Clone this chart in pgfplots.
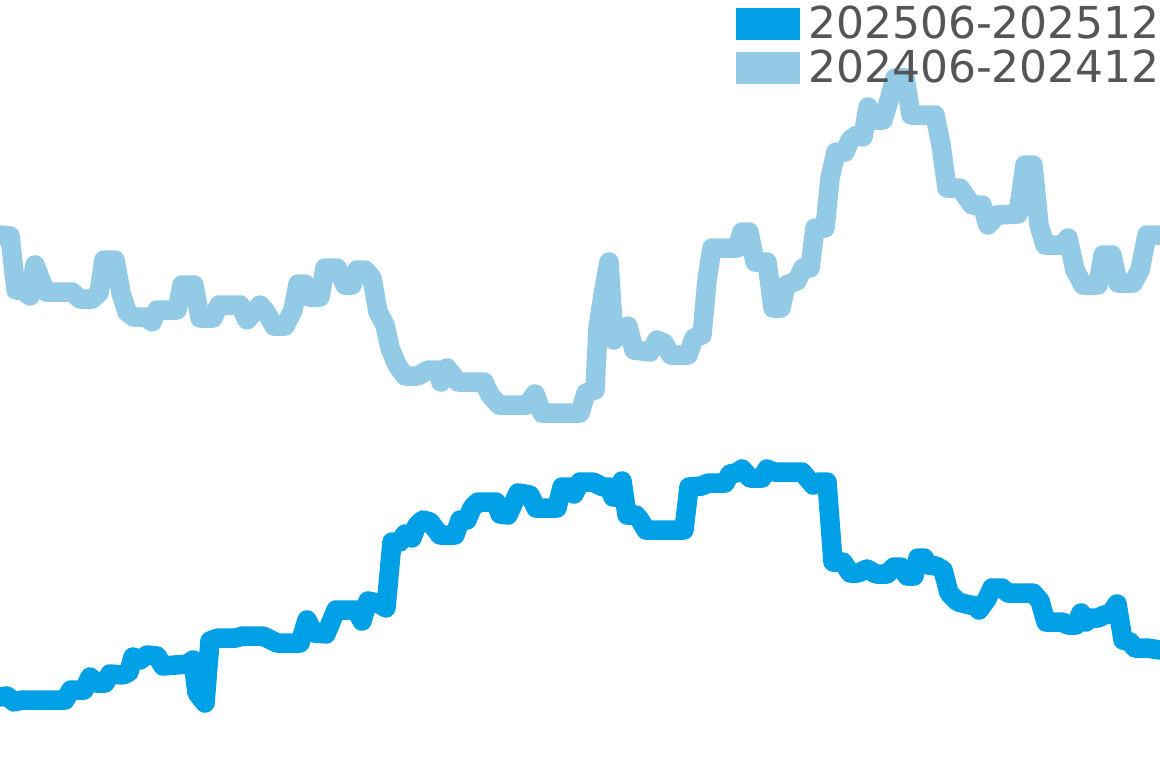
\documentclass[border=0pt]{standalone}
\usepackage{pgfplots}
\pgfplotsset{compat=1.18}
\usepackage{fontspec}
\setmainfont{DejaVu Sans}
\definecolor{newblue}{RGB}{0,160,230}
\definecolor{oldblue}{RGB}{147,202,229}
\definecolor{legtext}{RGB}{85,85,85}
\begin{document}
\begin{tikzpicture}
\begin{axis}[
  width=1160pt, height=768pt, scale only axis,
  hide axis, clip=false,
  xmin=0, xmax=1160, ymin=0, ymax=768, y dir=reverse,
  every axis plot/.append style={line width=19.5pt, line join=round, line cap=round},
]
% 202406-202412
\addplot[color=oldblue] coordinates {(0,235)(10,236)(16,290)(22,290)(30,296)(35,265)(40,278)(46,292)(72,292)(80,299)(92,299)(99,293)(104,260)(115,260)(121,293)(127,312)(134,317)(146,317)(152,322)(157,310)(177,310)(182,285)(194,285)(200,318)(213,318)(219,305)(240,305)(247,320)(260,305)(266,312)(274,326)(285,326)(293,310)(298,284)(305,284)(309,297)(320,297)(325,268)(337,268)(345,285)(352,285)(357,270)(365,270)(372,278)(378,312)(385,325)(390,348)(397,365)(405,376)(418,376)(428,370)(437,370)(441,382)(447,368)(458,382)(484,382)(490,395)(499,405)(527,405)(535,394)(542,413)(580,413)(586,393)(595,390)(598,328)(603,295)(609,262)(614,340)(622,330)(628,326)(634,350)(650,352)(657,340)(664,343)(671,355)(688,355)(694,338)(702,335)(707,280)(712,248)(737,248)(742,232)(749,232)(755,262)(767,262)(773,308)(781,308)(786,285)(797,281)(803,268)(810,268)(815,228)(825,228)(830,178)(836,152)(845,152)(850,140)(857,135)(863,137)(868,107)(874,120)(883,120)(890,97)(895,78)(905,78)(911,115)(935,115)(941,145)(947,188)(960,188)(972,205)(982,205)(988,225)(997,215)(1018,214)(1025,165)(1033,165)(1039,225)(1045,245)(1063,245)(1068,238)(1075,270)(1083,285)(1098,285)(1103,255)(1112,255)(1118,283)(1133,283)(1140,270)(1147,235)(1160,235)};
% 202506-202512
\addplot[color=newblue] coordinates {(0,697)(7,696)(14,702)(22,700)(65,700)(71,690)(84,690)(90,677)(96,683)(105,683)(110,674)(123,675)(129,672)(133,657)(140,660)(147,655)(157,656)(163,666)(188,664)(193,660)(197,693)(205,703)(210,641)(218,638)(236,638)(243,636)(263,636)(277,643)(300,643)(307,620)(314,633)(326,634)(336,610)(356,610)(362,621)(368,601)(378,603)(386,608)(392,542)(400,542)(405,534)(412,538)(417,525)(423,520)(430,522)(440,535)(455,535)(460,520)(467,520)(472,508)(478,502)(496,502)(500,514)(508,515)(518,493)(530,495)(536,508)(557,508)(562,487)(570,487)(574,494)(580,482)(593,482)(603,487)(609,487)(613,497)(618,497)(622,481)(627,515)(636,515)(640,520)(646,530)(684,530)(689,487)(702,486)(708,483)(725,483)(730,474)(736,473)(742,469)(750,478)(762,478)(767,469)(774,472)(802,472)(813,485)(818,482)(827,482)(833,562)(843,562)(850,573)(858,573)(867,569)(876,574)(887,574)(894,567)(901,567)(907,576)(914,576)(918,558)(924,558)(928,565)(936,566)(943,570)(949,593)(958,602)(970,605)(977,606)(979,610)(987,599)(992,588)(1002,588)(1008,593)(1033,593)(1040,601)(1046,622)(1062,622)(1068,625)(1076,625)(1081,613)(1086,622)(1091,618)(1098,618)(1104,615)(1110,614)(1117,604)(1123,640)(1130,642)(1135,648)(1147,648)(1160,650)};
\end{axis}
% legend
\fill[newblue] (736pt,728pt) rectangle (800pt,760pt);
\fill[oldblue] (736pt,684pt) rectangle (800pt,716pt);
\node[anchor=base west, inner sep=0pt, text=legtext, font=\fontsize{44}{44}\selectfont] at (808pt,729pt) {202506-202512};
\node[anchor=base west, inner sep=0pt, text=legtext, font=\fontsize{44}{44}\selectfont] at (808pt,685pt) {202406-202412};
\pgfresetboundingbox
\useasboundingbox (0,0) rectangle (1160pt,768pt);
\end{tikzpicture}
\end{document}
